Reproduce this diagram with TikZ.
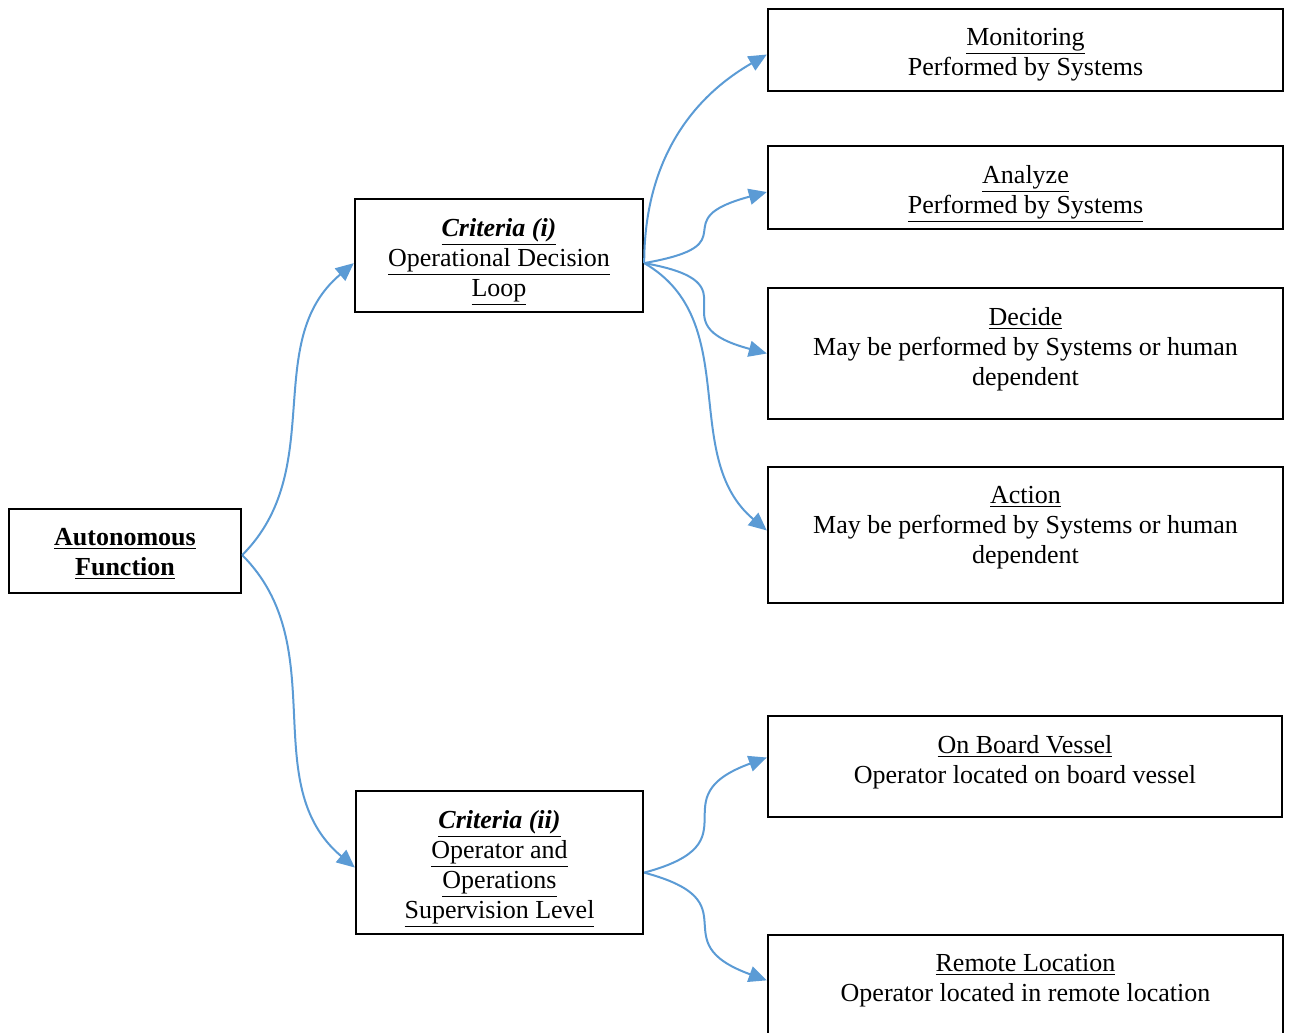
\documentclass[tikz,border=0pt]{standalone}
\usepackage{fontspec}
\setmainfont{Liberation Serif}
\usetikzlibrary{arrows.meta}
\definecolor{linkblue}{HTML}{5B9BD5}
\newcommand{\boxtext}[3]{\parbox[c][#2][t]{#1}{\centering\vspace*{9.5pt}#3}}

\begin{document}
\begin{tikzpicture}[x=0.5pt, y=0.5pt,
  every node/.style={draw, line width=1.2pt, inner sep=0pt, font=\fontsize{13}{15}\selectfont},
  link/.style={draw=linkblue, line width=1pt, -{Triangle[length=9pt, width=8pt]}}]
  \useasboundingbox (0,0) rectangle (1290,-1033);
  \node (auto) at (125,-551) {\boxtext{116pt}{42pt}{\textbf{\underline{Autonomous}}\\\textbf{\underline{Function}}}};
  \node (crit1) at (499,-255.5) {\boxtext{144pt}{56.5pt}{\textbf{\textit{\underline{Criteria (i)}}}\\\underline{Operational Decision}\\\underline{Loop}}};
  \node (crit2) at (499.5,-862.5) {\boxtext{143.5pt}{71.5pt}{\textbf{\textit{\underline{Criteria (ii)}}}\\\underline{Operator and}\\\underline{Operations}\\\underline{Supervision Level}}};
  \node (mon) at (1025.5,-50) {\boxtext{257.5pt}{41pt}{\underline{Monitoring}\\Performed by Systems}};
  \node (ana) at (1025.5,-187.5) {\boxtext{257.5pt}{41.5pt}{\underline{Analyze}\\\underline{Performed by Systems}}};
  \node (dec) at (1025.5,-353.5) {\boxtext{257.5pt}{65.5pt}{\underline{Decide}\\May be performed by Systems or human\\dependent}};
  \node (act) at (1025.5,-535) {\boxtext{257.5pt}{68pt}{\underline{Action}\\May be performed by Systems or human\\dependent}};
  \node (board) at (1025,-766.5) {\boxtext{257pt}{50.5pt}{\underline{On Board Vessel}\\Operator located on board vessel}};
  \node (remote) at (1025.5,-1003) {\boxtext{257.5pt}{68pt}{\underline{Remote Location}\\Operator located in remote location}};
  % criteria branches
  \draw[link] (auto.-2) to[out=45, in=220] (crit1.183);
  \draw[link] (auto.-2) to[out=-45, in=140] (crit2.182);
  % decision loop
  \draw[link] (crit1.-3) to[out=90, in=210] (mon.181);
  \draw[link] (crit1.-3) to[out=10, in=195, looseness=2] (ana.181);
  \draw[link] (crit1.-3) to[out=-10, in=165, looseness=2] (dec.west);
  \draw[link] (crit1.-3) to[out=-30, in=140] (act.179);
  % supervision level
  \draw[link] (crit2.-4) to[out=15, in=200, looseness=1.8] (board.178);
  \draw[link] (crit2.-4) to[out=-15, in=160, looseness=1.8] (remote.175);
\end{tikzpicture}
\end{document}
